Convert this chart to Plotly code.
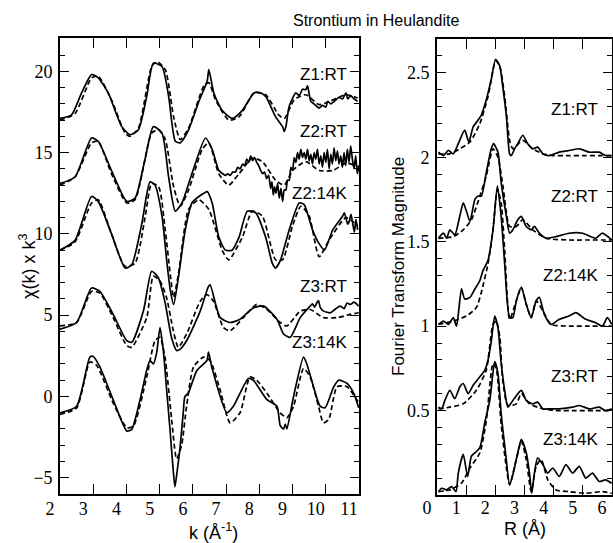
import plotly.graph_objects as go

# ---------------- k-space data (chi(k) x k^3, offset) ----------------
z1rt_k = [2.0, 2.34, 2.65, 2.95, 3.15, 3.45, 3.86, 4.11, 4.36, 4.61, 4.81, 5.07, 5.27, 5.47, 5.62, 5.87, 6.18, 6.43, 6.48, 6.63, 6.88, 7.18, 7.49, 7.84, 8.0, 8.19, 8.49, 8.70, 8.75, 8.80, 8.90, 9.10, 9.20, 9.30, 9.40, 9.45, 9.55, 9.65, 9.80, 9.90, 10.0, 10.06, 10.15, 10.31, 10.40, 10.50, 10.61, 10.66, 10.75, 10.85, 10.96]
z1rt_v = [17.1, 17.3, 18.67, 19.8, 19.6, 18.67, 16.6, 16.1, 16.4, 18.46, 20.5, 20.3, 18.46, 15.7, 15.6, 16.4, 18.15, 19.4, 20.1, 18.67, 17.6, 17.1, 17.6, 18.67, 18.7, 18.46, 17.2, 16.6, 16.3, 16.6, 17.85, 18.67, 18.5, 18.9, 18.87, 19.1, 18.15, 18.0, 17.74, 17.9, 17.8, 18.15, 18.0, 18.25, 18.4, 18.3, 18.67, 18.3, 18.5, 18.3, 18.15]
z1fit_k = [2.0, 2.45, 2.95, 3.15, 3.55, 3.96, 4.11, 4.36, 4.76, 4.92, 5.17, 5.42, 5.62, 5.87, 6.33, 6.48, 6.68, 7.08, 7.39, 7.84, 8.19, 8.59, 8.75, 9.05, 9.40, 9.80, 10.11, 10.61, 10.96]
z1fit_v = [17.0, 17.4, 19.6, 19.7, 18.25, 16.2, 16.0, 16.5, 20.3, 20.6, 20.1, 17.2, 15.8, 16.5, 19.1, 19.3, 18.25, 17.0, 17.2, 18.67, 18.56, 17.3, 17.1, 18.25, 18.56, 17.95, 18.15, 18.56, 18.36]

z2rt_k = [2.0, 2.45, 2.95, 3.15, 3.55, 4.01, 4.26, 4.56, 4.81, 5.07, 5.27, 5.47, 5.67, 5.97, 6.38, 6.58, 6.78,
          6.90, 6.98, 7.05, 7.12, 7.20, 7.28, 7.35, 7.42, 7.50, 7.56, 7.62, 7.68, 7.74, 7.80, 7.86, 7.92, 7.98, 8.04, 8.10, 8.16, 8.22, 8.28, 8.34, 8.38, 8.42, 8.46, 8.50, 8.55, 8.60, 8.65, 8.70, 8.75, 8.80, 8.85, 8.90, 8.95, 9.00, 9.05, 9.10, 9.15, 9.20, 9.25, 9.30, 9.35, 9.40, 9.45, 9.50, 9.55, 9.60, 9.65, 9.70, 9.75, 9.80, 9.85, 9.90, 9.95, 10.00, 10.05, 10.10, 10.15, 10.20, 10.25, 10.30, 10.35, 10.40, 10.45, 10.50, 10.55, 10.60, 10.65, 10.70, 10.75, 10.80, 10.85, 10.90, 10.95, 11.0]
z2rt_v = [13.1, 13.5, 15.9, 15.7, 13.9, 12.0, 12.2, 14.6, 16.6, 16.2, 13.5, 11.4, 11.9, 13.7, 15.9, 15.2, 13.9,
          13.7, 13.6, 13.7, 13.6, 13.8, 13.8, 14.1, 14.0, 14.3, 14.2, 14.6, 14.4, 14.8, 14.5, 14.7, 14.4, 14.2, 13.9, 13.7, 13.8, 13.4, 13.6, 12.8, 13.2, 12.4, 12.9, 12.5, 13.1, 12.2, 12.8, 12.0, 12.7, 12.7, 13.3, 13.3, 14.1, 13.9, 14.7, 14.4, 15.0, 14.6, 15.2, 14.7, 15.0, 14.6, 15.2, 14.5, 14.9, 14.3, 15.0, 14.6, 15.2, 14.3, 14.8, 14.1, 15.0, 14.4, 15.2, 14.0, 14.9, 14.3, 15.3, 14.5, 15.1, 14.3, 14.8, 14.1, 15.0, 14.2, 15.2, 14.4, 15.4, 14.6, 14.0, 14.8, 13.7, 14.2]
z2fit_k = [2.0, 2.45, 2.95, 3.15, 3.55, 4.01, 4.26, 4.76, 4.97, 5.17, 5.42, 5.62, 5.87, 6.28, 6.48, 6.78, 7.08, 7.39, 7.79, 8.09, 8.49, 8.75, 9.00, 9.40, 9.80, 10.21, 10.61, 10.96]
z2fit_v = [13.0, 13.5, 15.6, 15.7, 13.7, 11.9, 12.1, 16.2, 16.4, 15.8, 12.9, 11.7, 12.7, 15.2, 15.6, 13.7, 13.0, 13.7, 14.66, 14.45, 13.3, 13.0, 13.9, 14.45, 13.9, 13.9, 14.35, 14.15]

z214k_k = [2.0, 2.45, 2.95, 3.15, 3.55, 3.96, 4.16, 4.46, 4.71, 4.86, 5.07, 5.22, 5.32, 5.42, 5.57, 5.77, 5.97, 6.18, 6.33, 6.43, 6.58, 6.78, 6.98, 7.18, 7.39, 7.64, 7.89, 8.19, 8.39, 8.49, 8.64, 8.90, 9.20, 9.35, 9.60, 9.80, 9.96, 10.21, 10.51, 10.56, 10.66, 10.71, 10.76, 10.86, 10.91, 10.96]
z214k_v = [9.0, 9.6, 12.3, 12.0, 10.0, 7.9, 8.1, 10.6, 13.2, 13.0, 11.1, 8.2, 6.55, 5.66, 7.4, 10.25, 11.9, 12.3, 12.5, 12.6, 11.9, 9.8, 9.0, 9.0, 9.8, 11.4, 11.3, 9.8, 8.2, 7.9, 8.4, 10.25, 11.9, 11.8, 10.25, 9.4, 9.0, 10.25, 11.1, 11.3, 10.6, 10.8, 11.2, 10.1, 10.9, 10.25]
z214kfit_k = [2.0, 2.45, 2.95, 3.15, 3.55, 3.96, 4.26, 4.56, 4.76, 4.97, 5.17, 5.32, 5.42, 5.57, 5.87, 6.18, 6.48, 6.88, 7.08, 7.49, 7.79, 8.09, 8.49, 8.70, 9.00, 9.25, 9.50, 9.80, 10.11, 10.61, 10.96]
z214kfit_v = [9.0, 9.5, 11.9, 12.1, 10.0, 8.0, 8.2, 11.0, 13.1, 12.9, 10.2, 7.5, 6.1, 7.6, 11.5, 12.1, 11.5, 9.0, 8.4, 9.8, 11.4, 11.1, 8.4, 8.4, 10.5, 11.7, 11.1, 8.6, 9.65, 11.0, 10.5]

z3rt_k = [2.0, 2.50, 2.95, 3.20, 3.60, 4.01, 4.16, 4.51, 4.76, 4.96, 5.16, 5.36, 5.51, 5.61, 5.81, 6.22, 6.47, 6.52, 6.82, 7.12, 7.42, 7.82, 8.13, 8.53, 8.73, 8.93, 9.23, 9.53, 9.60, 9.66, 9.73, 9.78, 9.83, 9.93, 10.14, 10.30, 10.44, 10.55, 10.64, 10.74, 10.85, 10.99]
z3rt_v = [4.14, 4.55, 6.67, 6.46, 5.05, 3.43, 3.33, 5.25, 7.7, 7.3, 5.8, 3.6, 2.83, 2.9, 3.43, 5.25, 6.77, 6.87, 4.85, 4.55, 4.75, 5.45, 5.56, 4.75, 3.84, 3.64, 4.85, 5.56, 5.7, 5.5, 5.76, 5.9, 5.5, 5.25, 5.15, 5.4, 5.56, 5.4, 5.75, 5.66, 5.8, 5.56]
z3fit_k = [2.0, 2.50, 2.95, 3.20, 3.60, 4.01, 4.16, 4.61, 4.81, 5.01, 5.21, 5.41, 5.56, 5.81, 6.22, 6.42, 6.62, 6.92, 7.12, 7.52, 7.92, 8.23, 8.63, 8.83, 9.23, 9.53, 9.93, 10.34, 10.74, 10.99]
z3fit_v = [4.34, 4.55, 6.46, 6.36, 4.85, 3.13, 3.03, 4.85, 7.4, 7.1, 6.06, 4.04, 3.03, 3.84, 5.86, 6.26, 5.86, 4.24, 4.04, 4.85, 5.66, 5.35, 4.55, 4.34, 5.25, 5.35, 4.85, 4.85, 5.05, 5.15]

z314k_k = [2.0, 2.50, 2.90, 3.0, 3.20, 3.60, 4.01, 4.16, 4.41, 4.61, 4.71, 4.81, 4.91, 5.01, 5.11, 5.21, 5.31, 5.41, 5.46, 5.51, 5.61, 5.71, 5.76, 5.86, 6.12, 6.42, 6.47, 6.57, 7.02, 7.22, 7.67, 7.82, 8.23, 8.53, 8.63, 8.73, 8.78, 8.83, 9.03, 9.33, 9.43, 9.63, 9.83, 9.98, 10.24, 10.39, 10.64, 10.84, 10.99]
z314k_v = [-1.01, -0.6, 2.42, 2.46, 1.82, -0.2, -2.12, -2.02, -0.2, 1.62, 2.2, 2.0, 2.7, 4.24, 2.83, 0.4, -2.0, -4.6, -5.56, -4.85, -3.2, -1.0, 0.0, 0.2, 1.6, 2.2, 2.73, 1.8, -1.0, -0.6, 1.1, 1.0, -0.2, -0.6, -1.8, -2.0, -1.7, -2.0, 0.0, 2.42, 2.0, 0.6, -0.6, -0.7, 0.6, 1.0, 0.8, 0.2, -0.7]
z314kfit_k = [2.0, 2.50, 2.90, 3.10, 3.60, 4.01, 4.21, 4.61, 4.86, 5.01, 5.16, 5.36, 5.51, 5.66, 5.81, 6.02, 6.32, 6.52, 6.82, 7.12, 7.42, 7.72, 7.92, 8.23, 8.63, 8.83, 9.03, 9.33, 9.53, 9.78, 9.93, 10.09, 10.34, 10.64, 10.99]
z314kfit_v = [-1.1, -0.7, 2.12, 1.92, -0.4, -1.92, -1.82, 1.2, 3.43, 3.64, 2.42, -1.41, -3.84, -3.0, -0.6, 1.82, 2.42, 2.2, 0.4, -1.62, -1.0, 1.2, 1.0, 0.2, -1.01, -1.31, -0.6, 1.72, 1.2, -0.6, -1.62, -1.41, 0.6, 0.6, -0.4]

# ---------------- R-space data (FT magnitude, offset) ----------------
r1_R = [0.05, 0.22, 0.39, 0.56, 0.73, 0.95, 1.09, 1.24, 1.41, 1.52, 1.69, 1.86, 2.01, 2.15, 2.26, 2.38, 2.49, 2.55, 2.66, 2.77, 2.94, 3.11, 3.28, 3.45, 3.63, 3.85, 4.19, 4.53, 4.88, 5.22, 5.56, 5.78, 5.99]
r1_v = [2.03, 2.01, 2.04, 2.02, 2.08, 2.16, 2.09, 2.18, 2.22, 2.25, 2.34, 2.46, 2.58, 2.54, 2.41, 2.24, 2.02, 2.01, 2.05, 2.08, 2.13, 2.08, 2.05, 2.06, 2.02, 2.01, 2.03, 2.04, 2.05, 2.03, 2.03, 2.01, 2.01]
r1fit_R = [0.05, 0.44, 0.78, 1.13, 1.47, 1.75, 2.01, 2.15, 2.32, 2.49, 2.6, 2.94, 3.28, 3.63, 3.97, 4.53, 5.1, 5.67, 5.99]
r1fit_v = [2.02, 2.02, 2.05, 2.09, 2.2, 2.36, 2.57, 2.54, 2.36, 2.1, 2.05, 2.1, 2.05, 2.02, 2.01, 2.01, 2.01, 2.01, 2.01]

r2_R = [0.05, 0.22, 0.33, 0.44, 0.61, 0.78, 0.9, 1.01, 1.13, 1.3, 1.41, 1.52, 1.69, 1.86, 1.94, 2.09, 2.2, 2.38, 2.49, 2.6, 2.77, 2.89, 3.06, 3.23, 3.34, 3.51, 3.74, 4.08, 4.53, 4.99, 5.44, 5.67, 5.99]
r2_v = [1.52, 1.55, 1.52, 1.57, 1.54, 1.65, 1.73, 1.68, 1.62, 1.75, 1.77, 1.77, 1.91, 2.05, 2.08, 2.03, 1.85, 1.65, 1.55, 1.57, 1.63, 1.65, 1.59, 1.57, 1.59, 1.55, 1.52, 1.53, 1.55, 1.55, 1.52, 1.55, 1.51]
r2fit_R = [0.05, 0.56, 0.9, 1.18, 1.47, 1.69, 1.92, 2.09, 2.26, 2.49, 2.72, 2.94, 3.28, 3.74, 4.53, 5.1, 5.99]
r2fit_v = [1.52, 1.53, 1.57, 1.63, 1.77, 1.89, 2.05, 2.0, 1.83, 1.59, 1.59, 1.63, 1.57, 1.52, 1.51, 1.51, 1.51]

r214k_R = [0.05, 0.22, 0.39, 0.56, 0.67, 0.84, 0.95, 1.13, 1.3, 1.47, 1.58, 1.75, 1.92, 2.07, 2.2, 2.32, 2.49, 2.6, 2.72, 2.89, 3.06, 3.23, 3.4, 3.51, 3.68, 3.91, 4.19, 4.53, 4.76, 5.1, 5.44, 5.67, 5.84, 5.99]
r214k_v = [1.01, 1.03, 1.01, 1.05, 1.0, 1.22, 1.16, 1.17, 1.22, 1.27, 1.33, 1.39, 1.57, 1.83, 1.65, 1.37, 1.05, 1.05, 1.15, 1.23, 1.13, 1.05, 1.15, 1.17, 1.07, 1.01, 1.04, 1.06, 1.08, 1.04, 1.02, 1.0, 1.05, 1.01]
r214kfit_R = [0.05, 0.56, 1.01, 1.35, 1.52, 1.75, 1.92, 2.07, 2.2, 2.32, 2.49, 2.72, 2.89, 3.06, 3.23, 3.4, 3.63, 3.91, 4.53, 5.1, 5.99]
r214kfit_v = [1.01, 1.03, 1.06, 1.11, 1.2, 1.37, 1.57, 1.81, 1.73, 1.45, 1.04, 1.15, 1.23, 1.13, 1.05, 1.15, 1.09, 1.01, 1.0, 1.0, 1.0]

r3_R = [0.05, 0.16, 0.27, 0.44, 0.61, 0.78, 0.9, 1.07, 1.24, 1.47, 1.64, 1.75, 1.86, 1.98, 2.09, 2.2, 2.32, 2.43, 2.6, 2.89, 3.06, 3.28, 3.45, 3.63, 3.85, 4.19, 4.65, 4.88, 5.22, 5.56, 5.78, 5.99]
r3_v = [0.52, 0.51, 0.56, 0.62, 0.57, 0.64, 0.66, 0.6, 0.65, 0.70, 0.74, 0.80, 0.91, 1.06, 0.99, 0.78, 0.62, 0.52, 0.56, 0.62, 0.56, 0.54, 0.55, 0.51, 0.51, 0.51, 0.52, 0.53, 0.51, 0.52, 0.5, 0.51]
r3fit_R = [0.05, 0.44, 0.9, 1.35, 1.69, 1.92, 2.03, 2.15, 2.26, 2.43, 2.72, 2.89, 3.17, 3.63, 4.08, 4.76, 5.44, 5.99]
r3fit_v = [0.51, 0.52, 0.54, 0.62, 0.74, 1.01, 1.03, 0.94, 0.67, 0.53, 0.54, 0.6, 0.54, 0.51, 0.5, 0.5, 0.5, 0.5]

r314k_R = [0.05, 0.16, 0.33, 0.5, 0.65, 0.73, 0.9, 1.05, 1.18, 1.3, 1.47, 1.64, 1.81, 1.98, 2.09, 2.2, 2.35, 2.49, 2.6, 2.77, 2.89, 3.06, 3.17, 3.25, 3.34, 3.45, 3.63, 3.8, 3.97, 4.19, 4.42, 4.65, 4.88, 5.1, 5.33, 5.56, 5.78, 5.99]
r314k_v = [0.02, 0.04, 0.03, 0.05, 0.02, 0.13, 0.24, 0.11, 0.23, 0.25, 0.28, 0.43, 0.56, 0.79, 0.72, 0.48, 0.25, 0.06, 0.12, 0.25, 0.33, 0.25, 0.13, 0.01, 0.13, 0.22, 0.18, 0.13, 0.16, 0.11, 0.18, 0.13, 0.17, 0.1, 0.13, 0.08, 0.09, 0.07]
r314kfit_R = [0.05, 0.44, 0.84, 1.13, 1.47, 1.69, 1.92, 2.03, 2.2, 2.38, 2.49, 2.72, 2.89, 3.06, 3.23, 3.4, 3.57, 3.8, 4.08, 4.53, 5.1, 5.67, 5.99]
r314kfit_v = [0.02, 0.03, 0.07, 0.16, 0.25, 0.44, 0.78, 0.75, 0.42, 0.16, 0.06, 0.21, 0.32, 0.21, 0.02, 0.17, 0.21, 0.09, 0.03, 0.02, 0.01, 0.02, 0.01]

labels = ["Z1:RT", "Z2:RT", "Z2:14K", "Z3:RT", "Z3:14K"]
k_label_y = [19.8, 16.3, 12.5, 6.75, 3.3]
r_label_y = [2.28, 1.765, 1.30, 0.70, 0.326]
k_ticks = [2, 3, 4, 5, 6, 7, 8, 9, 10, 11]
chi_ticks = [-5, 0, 5, 10, 15, 20]
r_ticks = [0, 1, 2, 3, 4, 5, 6]
ft_ticks = [0.5, 1, 1.5, 2, 2.5]

W, H = 613, 543
SERIF = "Liberation Serif, Times New Roman, serif"
SANS = "Liberation Sans, Arial, sans-serif"

fig = go.Figure()

def add(x, y, dashed, xa, ya):
    fig.add_trace(go.Scatter(
        x=x, y=y, mode="lines", xaxis=xa, yaxis=ya, showlegend=False,
        line=dict(color="black", width=1.7, dash="5px,3px" if dashed else "solid",
                  shape="spline", smoothing=0.6)))

k_sets = [(z1rt_k, z1rt_v, z1fit_k, z1fit_v), (z2rt_k, z2rt_v, z2fit_k, z2fit_v),
          (z214k_k, z214k_v, z214kfit_k, z214kfit_v), (z3rt_k, z3rt_v, z3fit_k, z3fit_v),
          (z314k_k, z314k_v, z314kfit_k, z314kfit_v)]
for a, b, c, d in k_sets:
    add(c, d, True, "x", "y")
    add(a, b, False, "x", "y")

r_sets = [(r1_R, r1_v, r1fit_R, r1fit_v), (r2_R, r2_v, r2fit_R, r2fit_v),
          (r214k_R, r214k_v, r214kfit_R, r214kfit_v), (r3_R, r3_v, r3fit_R, r3fit_v),
          (r314k_R, r314k_v, r314kfit_R, r314kfit_v)]
for a, b, c, d in r_sets:
    add(c, d, True, "x2", "y2")
    add(a, b, False, "x2", "y2")

common = dict(showline=True, linecolor="black", linewidth=1.6, mirror="allticks",
              ticks="inside", tickcolor="black", tickwidth=1.2, showgrid=False,
              zeroline=False, automargin=False,
              tickfont=dict(family=SERIF, size=18, color="black"))

fig.update_layout(
    width=W, height=H, margin=dict(l=0, r=0, t=0, b=0),
    paper_bgcolor="white", plot_bgcolor="white",
    xaxis=dict(domain=[60 / W, 359 / W], range=[2, 11], tickvals=k_ticks,
               ticklen=10, ticklabelshift=-10, ticklabelstandoff=-2, anchor="y", **common),
    yaxis=dict(domain=[(H - 494) / H, (H - 38) / H], range=[-6, 22.05], tickvals=chi_ticks,
               ticklen=9, ticklabelstandoff=2, anchor="x",
               minor=dict(dtick=1, tick0=0, ticklen=5, ticks="inside", tickcolor="black", tickwidth=1.1),
               **common),
    xaxis2=dict(domain=[437 / W, 612 / W], range=[0, 6], tickvals=r_ticks,
                ticklen=10, ticklabelshift=-10, ticklabelstandoff=-4, anchor="y2", **common),
    yaxis2=dict(domain=[(H - 495) / H, (H - 39) / H], range=[0, 2.7],
                tickvals=ft_ticks, ticklen=9, ticklabelstandoff=2, anchor="x2",
                minor=dict(dtick=0.1, tick0=0, ticklen=5, ticks="inside", tickcolor="black", tickwidth=1.1),
                **common),
)

ann = []
for lab, yy in zip(labels, k_label_y):
    ann.append(dict(x=10.7, y=yy, xref="x", yref="y", text=lab, showarrow=False,
                    xanchor="right", yanchor="middle", font=dict(family=SANS, size=17, color="black")))
for lab, yy in zip(labels, r_label_y):
    ann.append(dict(x=5.59, y=yy, xref="x2", yref="y2", text=lab, showarrow=False,
                    xanchor="right", yanchor="middle", font=dict(family=SANS, size=17, color="black")))
ann.append(dict(x=376 / W, y=(H - 20) / H, xref="paper", yref="paper", text="Strontium in Heulandite",
                showarrow=False, xanchor="center", yanchor="middle", font=dict(family=SANS, size=16, color="black")))
ann.append(dict(x=213 / W, y=(H - 531) / H, xref="paper", yref="paper", text="k (Å<sup>-1</sup>)",
                showarrow=False, xanchor="center", yanchor="middle", font=dict(family=SANS, size=18, color="black")))
ann.append(dict(x=525 / W, y=(H - 529) / H, xref="paper", yref="paper", text="R (Å)",
                showarrow=False, xanchor="center", yanchor="middle", font=dict(family=SANS, size=18, color="black")))
ann.append(dict(x=27 / W, y=(H - 267) / H, xref="paper", yref="paper", text="χ(k) x k<sup>3</sup>",
                showarrow=False, textangle=-90, xanchor="center", yanchor="middle", font=dict(family=SANS, size=18, color="black")))
ann.append(dict(x=398 / W, y=(H - 267) / H, xref="paper", yref="paper", text="Fourier Transform Magnitude",
                showarrow=False, textangle=-90, xanchor="center", yanchor="middle", font=dict(family=SANS, size=17, color="black")))
fig.update_layout(annotations=ann)

fig.write_html("out.html")
